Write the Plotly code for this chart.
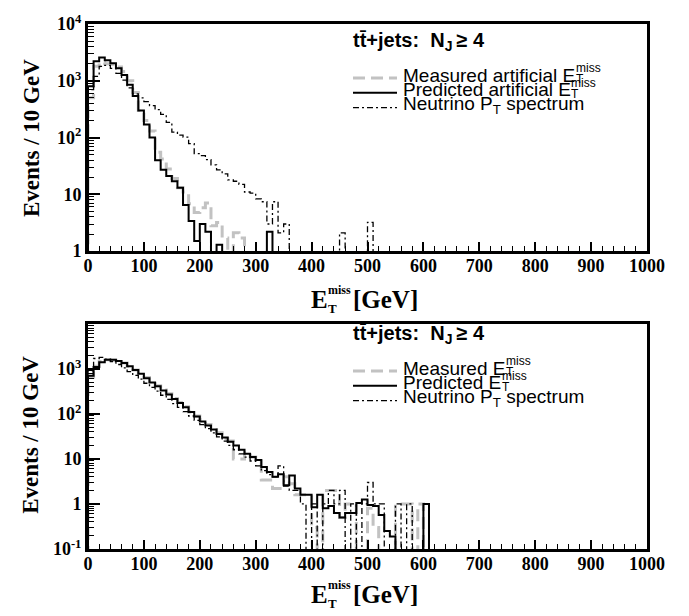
import plotly.graph_objects as go

# ---------------- data (events per 10 GeV bin, bins 0-10, 10-20, ... GeV) ----------------
N_BINS = 100
BIN_W = 10

# Top panel: artificial missing ET
meas_top = [500, 1800, 2100, 2000, 1950, 1750, 1450, 1000, 620, 300,
            200, 130, 55, 42, 28, 19, 13, 11, 6.8, 4.8,
            5.8, 7.0, 2.8, 3.2, 1.7, 0, 2.1, 1.7]
pred_top = [800, 2200, 2570, 2300, 2040, 1660, 1260, 850, 540, 300,
            170, 100, 40, 27, 21, 17, 13, 6.5, 3.4, 1.5,
            3.0, 2.2, 0, 1.3, 0, 0, 0, 0, 0, 0,
            0, 0, 2.2]
nu_top = [700, 1200, 1800, 1870, 1660, 1350, 1030, 750, 590, 500,
          430, 365, 310, 255, 185, 125, 110, 102, 78, 52,
          48, 41, 33, 27, 23, 18, 17, 15, 11, 10.5,
          8.3, 7.4, 3.0, 7.4, 2.1, 3.0, 0, 0, 0, 0,
          0, 0, 0, 0, 0, 2.1, 0, 0, 0, 0,
          3.2]

# Bottom panel: missing ET
meas_bot = [650, 1150, 1450, 1600, 1550, 1500, 1350, 1150, 950, 800,
            640, 520, 420, 340, 280, 220, 180, 145, 110, 90,
            75, 58, 45, 38, 28, 25, 10, 10, 14, 11,
            9, 3.4, 3.4, 2.2, 2.2, 4.0, 2.8, 1.6, 1.6, 1.6,
            0.3, 0, 2.0, 2.0, 2.0, 0.5, 1.0, 1.0, 0, 0,
            0.8, 0.3, 0, 0, 0, 1.0, 1.0, 1.0, 0, 1.0]
pred_bot = [700, 1100, 1400, 1600, 1600, 1500, 1350, 1150, 950, 780,
            620, 500, 410, 330, 270, 215, 175, 140, 110, 88,
            68, 55, 45, 36, 30, 24, 20, 16, 13, 11,
            9.5, 6.6, 5.1, 4.0, 4.6, 2.6, 4.3, 2.2, 1.6, 1.6,
            0.85, 1.6, 0.8, 0.9, 0.63, 0.5, 0.63, 0.63, 1.05, 1.25,
            0.95, 0.9, 0.57, 0.25, 0.19, 0, 0, 0, 0, 0,
            1.0]
nu_bot = [900, 1700, 1800, 1650, 1450, 1250, 1050, 870, 720, 590,
          480, 390, 320, 260, 210, 170, 140, 112, 90, 72,
          58, 47, 38, 31, 25, 20, 16, 13, 11, 9,
          7, 5.5, 4.5, 4.0, 7.0, 2.5, 2.0, 2.0, 1.0, 0,
          1.0, 0, 1.0, 2.0, 1.0, 2.0, 0, 1.0, 0, 1.0,
          3.0, 1.0, 1.0, 0, 0, 1.0, 0, 1.0]

x_tick_vals = list(range(0, 1001, 100))
x_tick_text = [str(v) for v in x_tick_vals]
top_y_ticks = [1, 10, 100, 1000, 10000]
top_y_text = ["1", "10", "10<sup>2</sup>", "10<sup>3</sup>", "10<sup>4</sup>"]
bot_y_ticks = [0.1, 1, 10, 100, 1000]
bot_y_text = ["10<sup>-1</sup>", "1", "10", "10<sup>2</sup>", "10<sup>3</sup>"]

legend_top = ["Measured artificial E", "Predicted artificial E", "Neutrino P<sub>T</sub> spectrum"]
legend_bot = ["Measured E", "Predicted E", "Neutrino P<sub>T</sub> spectrum"]
legend_title = "tt\u0304+jets:\u00a0 N<sub>J</sub>\u2009\u2265 4"

# ---------------- helpers ----------------
FLOOR = 1e-4
W, H = 689, 616
ML, MR, MT, MB = 88, 42, 15, 67
PW, PH = W - ML - MR, H - MT - MB


def px(x):
    return (x - ML) / PW


def py(y):
    return (H - MB - y) / PH


def step(vals):
    v = list(vals) + [0] * (N_BINS - len(vals))
    v = [max(a, FLOOR) for a in v]
    xs = [0] + [i * BIN_W for i in range(N_BINS)] + [N_BINS * BIN_W]
    ys = [FLOOR] + v + [v[-1]]
    return xs, ys


ARIAL = {' ': 278, 'M': 833, 'e': 556, 'a': 556, 's': 500, 'u': 556, 'r': 333, 'd': 556,
         't': 278, 'i': 222, 'f': 278, 'c': 500, 'l': 222, 'E': 667, 'P': 667, 'N': 722,
         'n': 556, 'o': 556, 'p': 556, 'm': 833}


def text_w(s, size):
    return sum(ARIAL.get(c, 556) for c in s) * size / 1000.0


GRAY = "#c2c2c2"
styles = {
    "meas": dict(color=GRAY, width=3, dash="12px,6px"),
    "pred": dict(color="black", width=2, dash="solid"),
    "nu": dict(color="black", width=1.3, dash="6px,3px,2px,3px"),
}

fig = go.Figure()
for name, vals, ax in [("meas", meas_top, ("x", "y")), ("nu", nu_top, ("x", "y")), ("pred", pred_top, ("x", "y")),
                       ("meas", meas_bot, ("x2", "y2")), ("nu", nu_bot, ("x2", "y2")), ("pred", pred_bot, ("x2", "y2"))]:
    xs, ys = step(vals)
    fig.add_trace(go.Scatter(x=xs, y=ys, mode="lines", line=dict(shape="hv", **styles[name]),
                             xaxis=ax[0], yaxis=ax[1], showlegend=False, hoverinfo="skip"))

tick_font = dict(family="Liberation Serif", size=18, color="black", weight="bold")
xaxis_common = dict(range=[0, 1000], tickmode="array", tickvals=x_tick_vals, ticktext=x_tick_text,
                    ticks="inside", ticklen=9, tickwidth=1.5, tickcolor="black", ticklabelstandoff=-4,
                    minor=dict(tickmode="array", tickvals=list(range(0, 1001, 20)), ticks="inside",
                               ticklen=5, tickwidth=1, tickcolor="black"),
                    showline=True, linewidth=3, linecolor="black", mirror=True,
                    showgrid=False, zeroline=False, tickfont=tick_font)


def minor_log(lo, hi):
    out = []
    for d in range(lo, hi):
        for k in range(2, 10):
            out.append(k * 10.0 ** d)
    return out


yaxis_common = dict(type="log", tickmode="array", ticks="inside", ticklen=12, tickwidth=1.5, tickcolor="black",
                    showline=True, linewidth=3, linecolor="black", mirror=True,
                    showgrid=False, zeroline=False, tickfont=tick_font)

top_dom = [py(246), 1.0]
bot_dom = [0.0, py(320)]

fig.update_layout(
    width=W, height=H, margin=dict(l=ML, r=MR, t=MT, b=MB),
    paper_bgcolor="white", plot_bgcolor="white", showlegend=False,
    xaxis=dict(anchor="y", domain=[0, 1], **xaxis_common),
    xaxis2=dict(anchor="y2", domain=[0, 1], **xaxis_common),
    yaxis=dict(anchor="x", domain=top_dom, range=[0, 4], tickvals=top_y_ticks, ticktext=top_y_text,
               minor=dict(tickmode="array", tickvals=minor_log(0, 4), ticks="inside", ticklen=6,
                          tickwidth=1, tickcolor="black"), **yaxis_common),
    yaxis2=dict(anchor="x2", domain=bot_dom, range=[-1, 4], tickvals=bot_y_ticks, ticktext=bot_y_text,
                minor=dict(tickmode="array", tickvals=minor_log(-1, 4), ticks="inside", ticklen=6,
                           tickwidth=1, tickcolor="black"), **yaxis_common),
)

ann = []
serif_b = dict(family="Liberation Serif", color="black", weight="bold")
sans = dict(family="Liberation Sans", color="black")
sans_b = dict(family="Liberation Sans", color="black", weight="bold")


def add_text(text, x, y, font, size, xanchor="left", angle=0):
    ann.append(dict(text=text, x=px(x), y=py(y), xref="paper", yref="paper", showarrow=False,
                    xanchor=xanchor, yanchor="middle", textangle=angle, borderpad=0,
                    font=dict(size=size, **font)))


for dy, labels in [(0, legend_top), (298, legend_bot)]:
    # y axis title
    add_text("Events / 10 GeV", 31, 131 + dy * 1.013, serif_b, 23, xanchor="center", angle=-90)
    # x axis title
    ty = 295 + dy * 1.007
    add_text("E", 310, ty, serif_b, 25)
    add_text("miss", 327, ty - 9, serif_b, 12)
    add_text("T", 327, ty + 9, serif_b, 13)
    add_text("[GeV]", 352, ty, serif_b, 25)
    # legend
    ly = 33 + dy
    add_text(legend_title, 352, ly, sans_b, 20)
    rows = [ly + 34, ly + 49, ly + 64]
    lines_y = [ly + 37, ly + 52, ly + 67]
    fs = 19
    for i, (lab, ry) in enumerate(zip(labels, rows)):
        add_text(lab, 402, ry, sans, fs)
        if i < 2:
            xe = 402 + text_w(lab, fs)
            add_text("miss", xe + 0.5, ry - 7, sans, 12)
            add_text("T", xe + 0.5, ry + 4, sans, 12)
    for key, ry in zip(["meas", "pred", "nu"], lines_y):
        st = styles[key]
        fig.add_shape(type="line", xref="paper", yref="paper", x0=px(353), x1=px(397), y0=py(ry), y1=py(ry),
                      line=dict(color=st["color"], width=st["width"], dash=st["dash"]))

fig.update_layout(annotations=ann)
fig.write_html("out.html")
